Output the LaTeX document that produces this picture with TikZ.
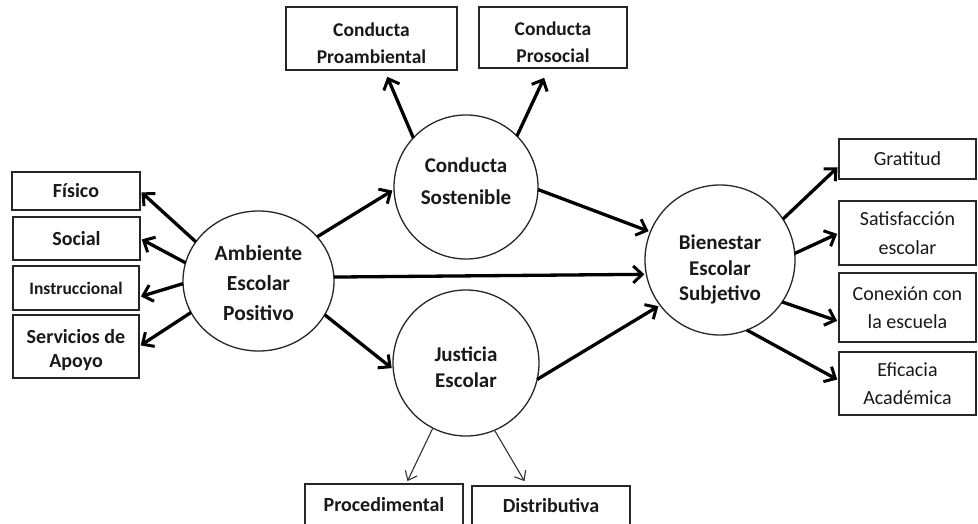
\documentclass[tikz,border=0pt]{standalone}
\usepackage{fontspec}
\setmainfont{Carlito}
\usetikzlibrary{arrows.meta,shapes.geometric}
\begin{document}
\begin{tikzpicture}[x=1pt,y=-1pt,
  every node/.style={inner sep=0pt,outer sep=0pt},
  box/.style={draw=black!85,line width=1.3pt,rectangle,align=center,text=black!90,font=\fontsize{20}{27}\selectfont\bfseries},
  rbox/.style={box,font=\fontsize{20}{28.5}\selectfont},
  boxtext/.style={align=center,text=black!90,font=\fontsize{20}{27}\selectfont\bfseries},
  ring/.style={draw=black!85,line width=1.3pt,circle},
  ringtext/.style={align=center,text=black!90,font=\fontsize{21.5}{30}\selectfont\bfseries},
  bigarrow/.style={line width=3.3pt,-{Straight Barb[length=9pt,width=17pt,line width=3pt]},shorten >=2pt},
  thinarrow/.style={line width=1.1pt,black!80,-{Straight Barb[length=8pt,width=13pt,line width=1.1pt]},shorten >=1pt}
]
\clip (0,0) rectangle (978,524);
\fill[white] (0,0) rectangle (978,524);

% circles
\node[draw=black!85,line width=1.3pt,ellipse,minimum width=151pt,minimum height=140pt] (amb) at (258.5,281) {};
\node[ringtext] (ambt) at ([yshift=-2pt]amb.center) {Ambiente\\Escolar\\Positivo};
\node[ring,minimum size=144pt] (cs) at (466,187) {};
\node[ringtext,font=\fontsize{21}{32}\selectfont\bfseries] (cst) at ([yshift=6pt]cs.center) {Conducta\\Sostenible};
\node[ring,minimum size=146pt] (js) at (466,363) {};
\node[ringtext,font=\fontsize{21}{25.5}\selectfont\bfseries] (jst) at ([yshift=-4pt]js.center) {Justicia\\Escolar};
\node[ring,minimum size=150pt] (bes) at (720,260) {};
\node[ringtext,font=\fontsize{21}{25.5}\selectfont\bfseries] (best) at ([yshift=-9.5pt]bes.center) {Bienestar\\Escolar\\Subjetivo};

% left boxes
\node[box,minimum width=128pt,minimum height=38pt] (fis) at (76,191) {Físico};
\node[box,minimum width=127pt,minimum height=43pt] (soc) at (76.5,238.5) {Social};
\node[box,minimum width=126pt,minimum height=44pt,font=\fontsize{17.5}{20}\selectfont\bfseries] (ins) at (76,288) {Instruccional};
\node[box,minimum width=126pt,minimum height=63pt] (ser) at (76,346.5) {};
\node[boxtext,font=\fontsize{20}{24}\selectfont\bfseries] (sert) at ([yshift=-4pt]ser.center) {Servicios de\\Apoyo};

% top boxes
\node[box,minimum width=171pt,minimum height=63pt] (pro) at (371.5,38.5) {};
\node[boxtext,font=\fontsize{19.5}{27}\selectfont\bfseries] (prot) at ([yshift=-5pt]pro.center) {Conducta\\Proambiental};
\node[box,minimum width=148pt,minimum height=61pt] (prs) at (553,37.5) {};
\node[boxtext,font=\fontsize{19.5}{27}\selectfont\bfseries] (prst) at ([yshift=-5pt]prs.center) {Conducta\\Prosocial};

% bottom boxes
\node[box,minimum width=158pt,minimum height=44pt] (proc) at (384,506) {\raisebox{3pt}{Procedimental}};
\node[box,minimum width=158pt,minimum height=42pt] (dis) at (551,507) {\raisebox{3pt}{Distributiva}};

% right boxes
\node[rbox,minimum width=137pt,minimum height=40pt] (gra) at (907.5,159) {Gratitud};
\node[rbox,minimum width=137pt,minimum height=64pt] (sat) at (907.5,233) {Satisfacción\\escolar};
\node[rbox,minimum width=137pt,minimum height=69pt] (con) at (907.5,307.5) {Conexión con\\la escuela};
\node[rbox,minimum width=137pt,minimum height=63pt] (efi) at (907.5,383.5) {Eficacia\\Académica};

% arrows from Ambiente
\draw[bigarrow] (amb.148) -- (fis.east);
\draw[bigarrow] (amb.166) -- (soc.east);
\draw[bigarrow] (amb.182) -- ([yshift=-9pt]ins.east);
\draw[bigarrow] (amb.205) -- (ser.east);
\draw[bigarrow] (amb.37) -- (cs.182);
\draw[bigarrow] (amb.3) -- (bes.191);
\draw[bigarrow] (amb.-27) -- (js.185);

% Conducta Sostenible
\draw[bigarrow] (cs.137) -- ([xshift=15pt,yshift=-5pt]pro.south);
\draw[bigarrow] (cs.45.5) -- ([xshift=-8pt,yshift=-8pt]prs.south);
\draw[bigarrow] (cs.-2) -- (bes.158);

% Justicia
\draw[bigarrow] (js.-13) -- (bes.217);
\draw[thinarrow] (js.243) -- ([xshift=23pt,yshift=2pt]proc.north);
\draw[thinarrow] (js.293) -- ([xshift=-26pt,yshift=4pt]dis.north);

% Bienestar
\draw[bigarrow] (bes.33.5) -- ([yshift=-7pt]gra.west);
\draw[bigarrow] (bes.5) -- (sat.west);
\draw[bigarrow] (bes.-34) -- ([yshift=-14pt]con.west);
\draw[bigarrow] (bes.-69) -- ([yshift=3pt]efi.west);
\end{tikzpicture}
\end{document}
